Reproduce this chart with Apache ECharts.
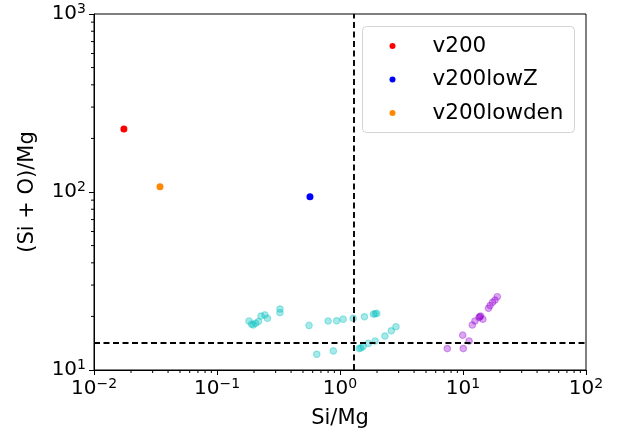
<!DOCTYPE html>
<html>
<head>
<meta charset="utf-8">
<script src="https://cdn.jsdelivr.net/npm/echarts@6/dist/echarts.min.js"></script>
<style>html,body{margin:0;padding:0;background:#fff;}#c{width:626px;height:436px;}</style>
</head>
<body>
<div id="c"></div>
<script>
// Data (x = Si/Mg, y = (Si + O)/Mg)
const v200 = [[0.0175, 226]];
const v200lowZ = [[0.57, 94]];
const v200lowden = [[0.0344, 107]];
const cyanPts = [
  [0.182, 18.85], [0.191, 18.1], [0.197, 17.9], [0.206, 18.3], [0.217, 18.7],
  [0.228, 20.1], [0.245, 20.4], [0.257, 19.5], [0.325, 22.0], [0.325, 21.0],
  [0.560, 17.8], [0.80, 18.85], [0.94, 18.9], [1.06, 19.3], [1.28, 19.5],
  [0.647, 12.25], [0.883, 12.8], [1.58, 19.9], [1.87, 20.6], [1.93, 20.7], [1.99, 20.8],
  [1.43, 13.2], [1.48, 13.3], [1.54, 13.55], [1.70, 14.1], [1.93, 14.55],
  [2.32, 15.5], [2.61, 16.6], [2.85, 17.5]
];
const purplePts = [
  [7.45, 13.2], [10.05, 13.2], [9.95, 15.7], [11.2, 14.55], [11.9, 17.9],
  [12.5, 18.85], [13.5, 19.7], [13.7, 19.9], [13.9, 20.1], [14.5, 19.3],
  [16.1, 22.2], [16.6, 23.0], [17.4, 24.0], [18.2, 24.7], [19.0, 25.8]
];
const vLineX = 1.3;
const hLineY = 14.2;
const xRange = [0.01, 100];
const yRange = [10, 1000];
const minorMult = [2, 3, 4, 5, 6, 7, 8, 9];
const xDecades = [0.01, 0.1, 1, 10];
const yDecades = [10, 100];

const FONT = 'DejaVu Sans';
const xMinor = [];
xDecades.forEach(d => minorMult.forEach(m => xMinor.push([d * m, yRange[0]])));
const yMinor = [];
yDecades.forEach(d => minorMult.forEach(m => yMinor.push([xRange[0], d * m])));

function supLabel(v) {
  const e = Math.round(Math.log10(v));
  const es = e < 0 ? '\u2212' + (-e) : '' + e;
  return '{b|10}{s|' + es + '}';
}
const richStyle = {
  b: { fontSize: 20, fontFamily: FONT, color: '#000', lineHeight: 24 },
  s: { fontSize: 14, fontFamily: FONT, color: '#000', lineHeight: 14, verticalAlign: 'top' }
};

const chart = echarts.init(document.getElementById('c'), null, { renderer: 'canvas' });
chart.setOption({
  animation: false,
  backgroundColor: '#fff',
  grid: { left: 94, right: 40, top: 14, bottom: 66, show: true, borderColor: '#000', borderWidth: 1, backgroundColor: 'transparent', outerBoundsMode: 'none' },
  graphic: [{
    type: 'rect', z: 3, silent: true,
    shape: { x: 362.5, y: 26.5, width: 212, height: 106, r: 4 },
    style: { fill: '#fff', stroke: '#d4d4d4', lineWidth: 1 }
  }],
  legend: {
    data: ['v200', 'v200lowZ', 'v200lowden'],
    orient: 'vertical', left: 389.5, top: 34,
    icon: 'circle', itemWidth: 6, itemHeight: 6, itemGap: 9.5,
    padding: 0,
    formatter: function (name) { return '{p|\u00a0}{n|' + name + '}'; },
    textStyle: {
      fontSize: 21.5, lineHeight: 24, fontFamily: FONT, color: '#000',
      rich: {
        p: { width: 32, fontSize: 21.5, lineHeight: 24, fontFamily: FONT },
        n: { fontSize: 21.5, lineHeight: 24, fontFamily: FONT, color: '#000' }
      }
    }
  },
  xAxis: {
    type: 'log', logBase: 10, min: xRange[0], max: xRange[1],
    name: 'Si/Mg', nameLocation: 'middle', nameGap: 38,
    nameTextStyle: { fontSize: 21, fontFamily: FONT, color: '#000' },
    axisLine: { show: true, lineStyle: { color: '#000', width: 1 } },
    axisTick: { show: true, length: 5, lineStyle: { color: '#000', width: 1 } },
    splitLine: { show: false },
    axisLabel: { margin: 7, formatter: supLabel, rich: richStyle }
  },
  yAxis: {
    type: 'log', logBase: 10, min: yRange[0], max: yRange[1],
    name: '(Si + O)/Mg', nameLocation: 'middle', nameGap: 56, nameRotate: 90,
    nameTextStyle: { fontSize: 21, fontFamily: FONT, color: '#000' },
    axisLine: { show: true, lineStyle: { color: '#000', width: 1 } },
    axisTick: { show: true, length: 5, lineStyle: { color: '#000', width: 1 } },
    splitLine: { show: false },
    axisLabel: { margin: 8, formatter: supLabel, rich: richStyle }
  },
  series: [
    {
      name: 'cyan', type: 'scatter', data: cyanPts, symbolSize: 6.5,
      itemStyle: { color: '#00bfbf', borderColor: '#00bfbf', borderWidth: 1.2, opacity: 0.35 },
      markLine: {
        silent: true, symbol: 'none', label: { show: false },
        lineStyle: { color: '#000', type: [6, 3.5], width: 1.9, opacity: 1 },
        data: [{ xAxis: vLineX }, { yAxis: hLineY }]
      }
    },
    {
      name: 'purple', type: 'scatter', data: purplePts, symbolSize: 6.5,
      itemStyle: { color: '#9400d3', borderColor: '#9400d3', borderWidth: 1.2, opacity: 0.35 }
    },
    { name: 'v200', type: 'scatter', data: v200, symbolSize: 7, itemStyle: { color: '#ff0000', opacity: 1 } },
    { name: 'v200lowZ', type: 'scatter', data: v200lowZ, symbolSize: 7, itemStyle: { color: '#0000ff', opacity: 1 } },
    { name: 'v200lowden', type: 'scatter', data: v200lowden, symbolSize: 7, itemStyle: { color: '#ff8800', opacity: 1 } },
    {
      name: 'xminor', type: 'custom', data: xMinor, silent: true, clip: false,
      renderItem: function (params, api) {
        const p = api.coord([api.value(0), api.value(1)]);
        return { type: 'line', shape: { x1: p[0], y1: p[1], x2: p[0], y2: p[1] + 3 }, style: { stroke: '#000', lineWidth: 1 } };
      }
    },
    {
      name: 'yminor', type: 'custom', data: yMinor, silent: true, clip: false,
      renderItem: function (params, api) {
        const p = api.coord([api.value(0), api.value(1)]);
        return { type: 'line', shape: { x1: p[0] - 3, y1: p[1], x2: p[0], y2: p[1] }, style: { stroke: '#000', lineWidth: 1 } };
      }
    }
  ]
});
</script>
</body>
</html>
